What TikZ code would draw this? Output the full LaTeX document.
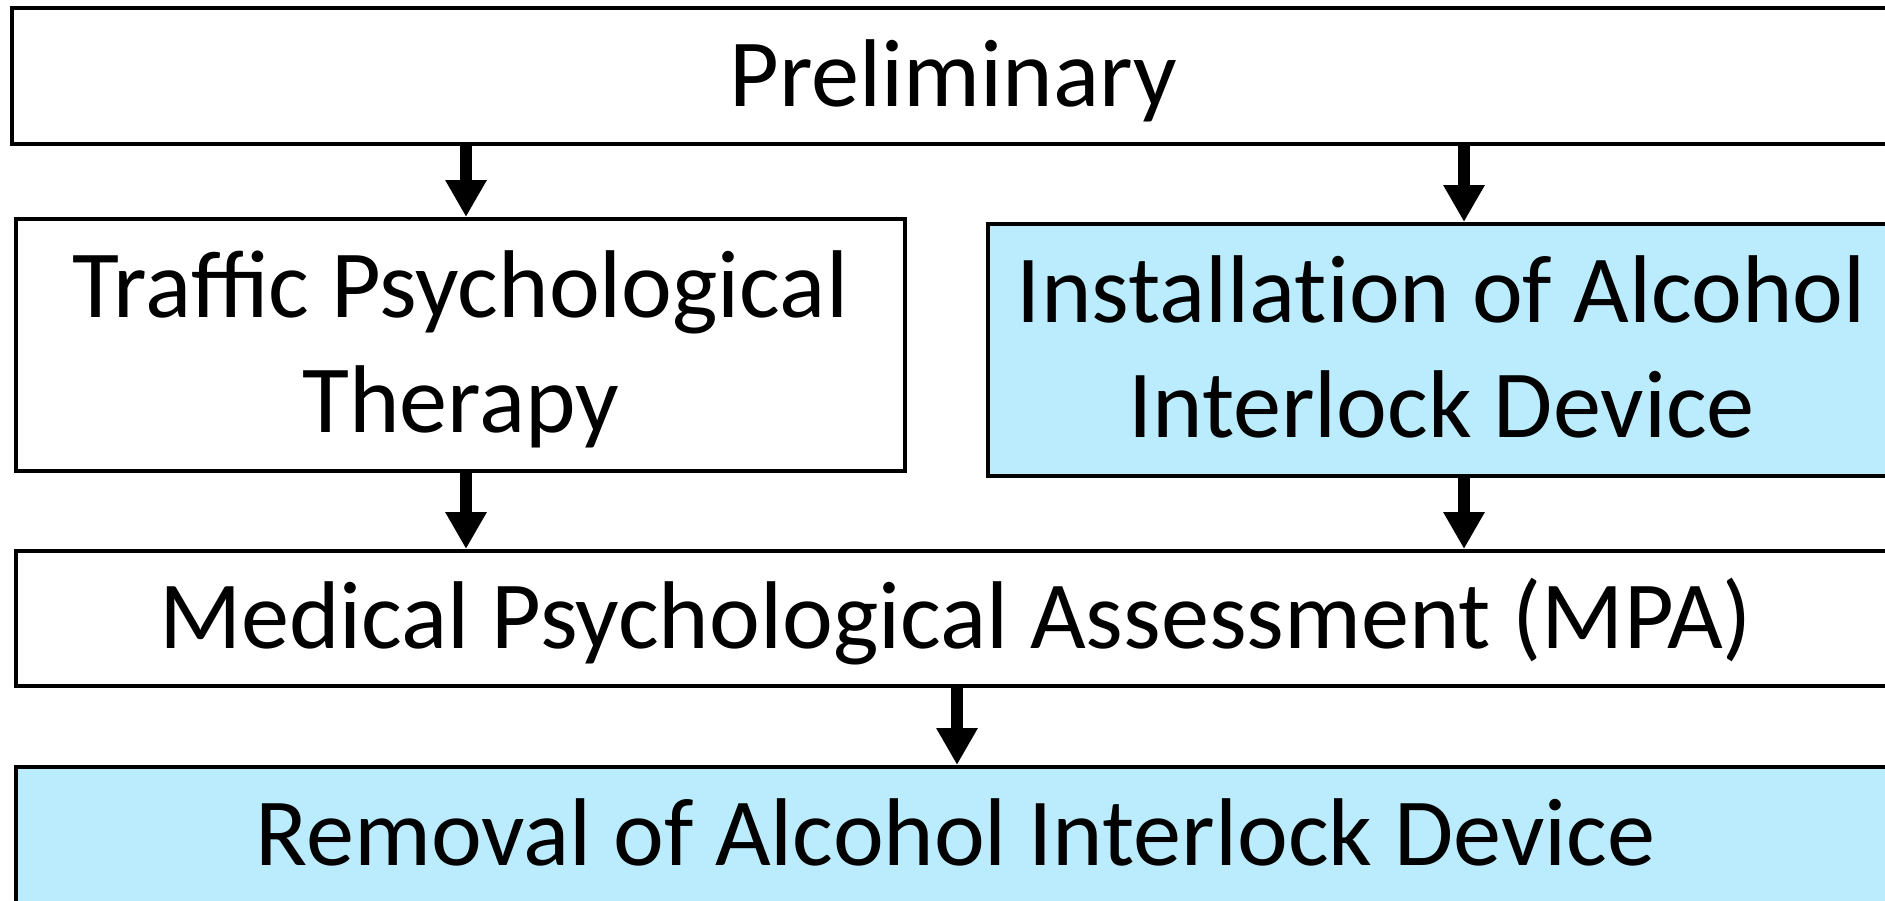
\documentclass[tikz,border=0pt]{standalone}
\usepackage{fontspec}
\setmainfont{Carlito}
\usetikzlibrary{arrows.meta}
\definecolor{boxblue}{RGB}{187,236,253}
\begin{document}
\begin{tikzpicture}[x=0.4pt,y=-0.4pt,
  stagebox/.style={draw=black,line width=1.6pt,rectangle,inner sep=0pt,
    font=\fontsize{38.5}{46}\selectfont,text height=24.3pt,text depth=0pt},
  twoline/.style={align=center,text height=70.3pt},
  bluebox/.style={fill=boxblue},
  flowarrow/.style={line width=4.8pt,line cap=butt,
    -{Triangle[width=15.6pt,length=14.8pt]}}]
\useasboundingbox (0,0) rectangle (1885,900);
\clip (0,0) rectangle (1885,900);
\node[stagebox,minimum width=753.2pt,minimum height=54.4pt] (prelim) at (953.5,76) {Preliminary};
\node[stagebox,twoline,minimum width=355.6pt,minimum height=100.8pt] (traffic) at (460.5,345) {Traffic Psychological\\Therapy};
\node[stagebox,twoline,bluebox,minimum width=362.8pt,minimum height=100.8pt] (install) at (1441.5,350) {Installat\kern0pt ion of Alcohol\\Interlock Device};
\node[stagebox,minimum width=751.6pt,minimum height=54pt] (mpa) at (955.5,618.5) {Medical Psychological Assessment (MPA)};
\node[stagebox,bluebox,minimum width=751.6pt,minimum height=54.4pt] (removal) at (955.5,835) {Removal of Alcohol Interlock Device};
\coordinate (xL) at (466,0);
\coordinate (xR) at (1464,0);
\coordinate (xM) at (957,0);
\draw[flowarrow] (prelim.south -| xL) -- (traffic.north -| xL);
\draw[flowarrow] (prelim.south -| xR) -- (install.north -| xR);
\draw[flowarrow] (traffic.south -| xL) -- (mpa.north -| xL);
\draw[flowarrow] (install.south -| xR) -- (mpa.north -| xR);
\draw[flowarrow] (mpa.south -| xM) -- (removal.north -| xM);
\end{tikzpicture}
\end{document}
